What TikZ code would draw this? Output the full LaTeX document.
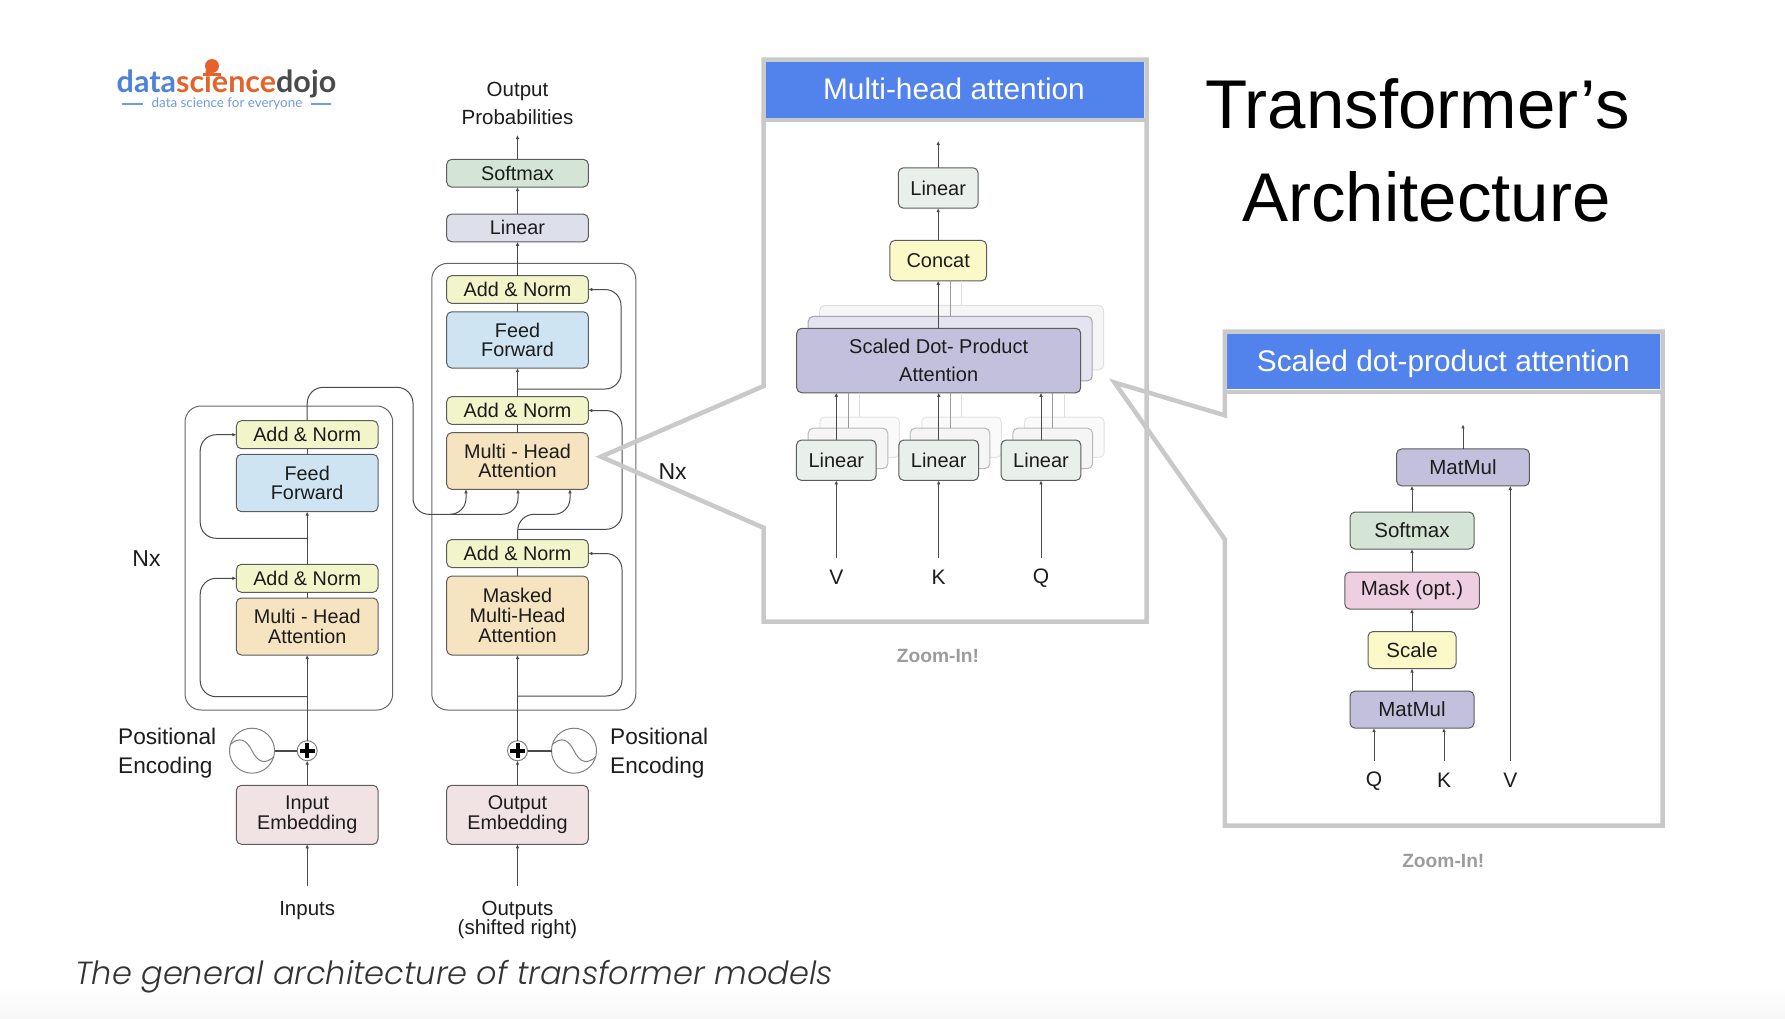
\documentclass[tikz,border=0pt]{standalone}
\usepackage{fontspec}
\setmainfont{Liberation Sans}
\newfontfamily\logofont{Lato}
\newfontfamily\capfont[ItalicFont={Poppins Light Italic}]{Poppins}
\usetikzlibrary{arrows.meta,calc}
\definecolor{softg}{HTML}{D4E4D5}
\definecolor{lingray}{HTML}{DDE0EA}
\definecolor{anorm}{HTML}{F2F5C9}
\definecolor{ffblue}{HTML}{CFE4F2}
\definecolor{mhaor}{HTML}{F6E3C0}
\definecolor{embpk}{HTML}{F1E3E3}
\definecolor{concy}{HTML}{FCF9C8}
\definecolor{maskp}{HTML}{EECFE2}
\definecolor{matp}{HTML}{C3C0DD}
\definecolor{linz}{HTML}{E9EFEA}
\definecolor{hdr}{HTML}{5282EC}
\definecolor{frameg}{HTML}{C9C9C9}
\definecolor{linec}{HTML}{4A4A4A}
\definecolor{txtc}{HTML}{1C1C1C}
\definecolor{zoomg}{HTML}{9C9C9C}
\definecolor{lblue}{HTML}{4F81DC}
\definecolor{lorange}{HTML}{E5622A}
\definecolor{lgray}{HTML}{4A4A4A}
\definecolor{ltag}{HTML}{6F9BE0}
\definecolor{bandg}{HTML}{F7F7F7}
\tikzset{
  x=1pt,y=-1pt,
  boxbase/.style={draw=#1,rounded corners=5pt,line width=1pt,inner sep=0pt,outer sep=0pt,align=center,text=txtc,font=\fontsize{19.8}{19.7}\selectfont},
  boxbase/.default={linec!90},
  cbox/.style 2 args={boxbase,fill=#1,minimum width=141.6pt,minimum height=#2},
  wbox/.style 2 args={boxbase,fill=#1,minimum width=#2,minimum height=40.4pt,font=\fontsize{20}{27.8}\selectfont},
  rbox/.style 2 args={boxbase,fill=#1,minimum width=#2,minimum height=37pt,font=\fontsize{20.5}{24}\selectfont},
  shada/.style={boxbase=black!28,fill=#1},
  shadb/.style={boxbase=black!11,fill=#1},
  lbl/.style={inner sep=0pt,align=center,text=txtc,font=\fontsize{20.5}{19.6}\selectfont},
  lblwide/.style={inner sep=0pt,align=center,text=txtc,font=\fontsize{20.5}{28}\selectfont},
  bigl/.style={inner sep=0pt,align=left,anchor=west,text=txtc,font=\fontsize{22.6}{28.8}\selectfont},
  nxl/.style={inner sep=0pt,text=txtc,font=\fontsize{23}{27}\selectfont},
  vkq/.style={inner sep=0pt,text=txtc,font=\fontsize{21}{25}\selectfont},
  hdrt/.style={inner sep=0pt,text=white,font=\fontsize{29.8}{32}\selectfont},
  zoomt/.style={inner sep=0pt,text=zoomg,font=\fontsize{19.2}{22}\bfseries\selectfont},
  titlet/.style={inner sep=0pt,text=black,font=\fontsize{69}{80}\selectfont},
  conn/.style={draw=linec,line width=1pt},
  arr/.style={conn,-{Latex[length=4pt,width=3.6pt]}},
  skipl/.style={arr,rounded corners=16pt},
  outer/.style={draw=linec!85,line width=1pt,rounded corners=16pt},
  frame/.style={draw=frameg,line width=4.5pt,miter limit=20},
  sigc/.style={circle,draw=black!50,line width=1pt,minimum size=45pt,inner sep=0pt,outer sep=0pt},
  plusn/.style={circle,draw=black!50,fill=white,line width=1pt,minimum size=20pt,inner sep=0pt,outer sep=0pt},
}
\begin{document}
\begin{tikzpicture}
\useasboundingbox (0,0) rectangle (1785,1018);
% bottom band
\shade[top color=white,bottom color=bandg] (0,985) rectangle (1785,1018);

% logo
\node[inner sep=0pt,anchor=base west,font=\fontsize{30.5}{32}\logofont\bfseries\selectfont] (logo) at (116.5,92)
  {\textcolor{lblue}{data}\textcolor{lorange}{science}\textcolor{lgray}{dojo}};
\node[circle,fill=lorange,minimum size=14pt,inner sep=0pt] (logodot) at (212,66) {};
\coordinate (lbara) at (203,74.5);
\coordinate (lbarb) at (221,74.5);
\draw[lorange,line width=2.5pt] (lbara) -- (lbarb);
\node[inner sep=0pt,text=ltag,font=\fontsize{13.4}{16}\logofont\selectfont] (logotag) at (227,104) {data science for everyone};
\coordinate (la1) at (121.5,104); \coordinate (la2) at (142.5,104);
\coordinate (lb1) at (310.5,104); \coordinate (lb2) at (331,104);
\draw[ltag,line width=1.8pt] (la1) -- (la2);
\draw[ltag,line width=1.8pt] (lb1) -- (lb2);

% outer Nx frames
\node[outer,minimum width=207.7pt,minimum height=304pt,inner sep=0pt,outer sep=0pt] (encframe) at (288.85,558) {};
\node[outer,minimum width=204pt,minimum height=446.7pt,inner sep=0pt,outer sep=0pt] (decframe) at (533.8,486.65) {};

% decoder boxes
\node[cbox={softg}{27.7pt}] (dsoft) at (517.5,173.2) {Softmax};
\node[cbox={lingray}{27.7pt}] (dlin) at (517.5,227.9) {Linear};
\node[cbox={anorm}{27.7pt}] (dan1) at (517.5,289.5) {Add \& Norm};
\node[cbox={ffblue}{56.3pt}] (dff) at (517.5,339.9) {Feed\\Forward};
\node[cbox={anorm}{27.7pt}] (dan2) at (517.5,410.5) {Add \& Norm};
\node[cbox={mhaor}{56.6pt}] (dmha) at (517.5,461) {Multi - Head\\Attention};
\node[cbox={anorm}{28pt}] (dan3) at (517.5,553.5) {Add \& Norm};
\node[cbox={mhaor}{79pt}] (dmask) at (517.5,615.5) {Masked\\Multi-Head\\Attention};
\node[cbox={embpk}{59pt}] (demb) at (517.5,814.8) {\raisebox{-1.5pt}{Output}\\\raisebox{-1.5pt}{Embedding}};
% encoder boxes
\node[cbox={anorm}{28pt}] (ean1) at (307.2,434.7) {Add \& Norm};
\node[cbox={ffblue}{57.4pt}] (eff) at (307.2,483) {Feed\\Forward};
\node[cbox={anorm}{28pt}] (ean2) at (307.2,578.3) {Add \& Norm};
\node[cbox={mhaor}{57pt}] (emha) at (307.2,626.5) {Multi - Head\\Attention};
\node[cbox={embpk}{59pt}] (eemb) at (307.2,814.8) {\raisebox{-1.5pt}{Input}\\\raisebox{-1.5pt}{Embedding}};
% plus and signal
\node[plusn] (eplus) at (307.2,750.7) {};
\node[plusn] (dplus) at (517.5,750.7) {};
\node[sigc] (esig) at (252,750.7) {};
\node[sigc] (dsig) at (574,750.7) {};
\foreach \c in {eplus,dplus}{
  \fill[black] (\c.center) ++(-7.5,-2) rectangle ++(15,4);
  \fill[black] (\c.center) ++(-2,-7.5) rectangle ++(4,15);
}
\foreach \c in {esig,dsig}{
  \begin{scope}[shift={(\c.center)}]
    \draw[black!50,line width=1pt] (-22,-6) .. controls (-13,-14) and (-6,-12) .. (0,0) .. controls (6,12) and (13,14) .. (22,6);
  \end{scope}
}
\draw[linec,line width=2pt] (esig) -- (eplus);
\draw[linec,line width=2pt] (dsig) -- (dplus);

% labels
\node[lblwide] (outprob) at (517.5,103.3) {Output\\Probabilities};
\node[lbl] (inputs) at (307.2,910.2) {Inputs};
\node[lbl] (outputs) at (517.5,920) {Outputs\\(shifted right)};
\node[bigl] (epe) at (118,753) {Positional\\Encoding};
\node[bigl] (dpe) at (610,753) {Positional\\Encoding};
\node[nxl] (enx) at (146.5,558.3) {Nx};
\node[nxl] (dnx) at (672.6,471.7) {Nx};

% free ends
\coordinate (outtop) at (517.5,135);
\coordinate (infree) at (307.2,886);
\coordinate (outfree) at (517.5,886);
\coordinate (m1) at (466,489.3);
\coordinate (m2) at (518,489.3);
\coordinate (m3) at (570,489.3);
\coordinate (jsk) at (450,514.3);

% decoder connectors
\draw[arr] (dsoft.north) -- (outtop);
\draw[arr] (dlin.north) -- (dsoft.south);
\draw[arr] (dan1.north) -- (dlin.south);
\draw[conn] (dff.north) -- (dan1.south);
\draw[arr] (dan2.north) -- (dff.south);
\draw[conn] (dmha.north) -- (dan2.south);
\draw[conn] (dmask.north) -- (dan3.south);
\draw[arr] (dplus.north) -- (dmask.south);
\draw[arr] (demb.north) -- (dplus.south);
\draw[arr] (outfree) -- (demb.south);
% decoder skips
\coordinate (ds1) at (517.5,389);
\coordinate (ds2) at (518,529.3);
\coordinate (ds3) at (517.5,696);
\draw[skipl] (ds1) -- (621,389) -- (621,289.5) -- (dan1.east);
\draw[skipl] (ds2) -- (622,529.3) -- (622,410.5) -- (dan2.east);
\draw[skipl] (ds3) -- (622,696) -- (622,553.5) -- (dan3.east);
\draw[skipl] (dan3.north) -- (518,514.3) -- (570,514.3) -- (m3);
\draw[skipl] (jsk) -- (518,514.3) -- (m2);
\draw[skipl] (ean1.north) -- (307.2,387.3) -- (413,387.3) -- (413,514.3) -- (466,514.3) -- (m1);

% encoder connectors
\draw[conn] (eff.north) -- (ean1.south);
\draw[arr] (ean2.north) -- (eff.south);
\draw[conn] (emha.north) -- (ean2.south);
\draw[arr] (eplus.north) -- (emha.south);
\draw[arr] (eemb.north) -- (eplus.south);
\draw[arr] (infree) -- (eemb.south);
\coordinate (es1) at (307.2,538.3);
\coordinate (es2) at (307.2,696.7);
\draw[skipl] (es1) -- (200.2,538.3) -- (200.2,434.7) -- (ean1.west);
\draw[skipl] (es2) -- (200.2,696.7) -- (200.2,578.3) -- (ean2.west);

% multi-head panel: shadows
\node[wbox={white}{79.7pt},shadb={black!2}] (vs2) at (859.6,437.2) {};
\node[wbox={white}{79.7pt},shadb={black!2}] (ks2) at (961.6,437.2) {};
\node[wbox={white}{79.7pt},shadb={black!2}] (qs2) at (1064.3,437.2) {};
\node[wbox={white}{79.7pt},shada={black!4}] (vs1) at (848,448.4) {};
\node[wbox={white}{79.7pt},shada={black!4}] (ks1) at (950,448.4) {};
\node[wbox={white}{79.7pt},shada={black!4}] (qs1) at (1052.7,448.4) {};
\node[boxbase=black!12,fill=black!4,minimum width=284pt,minimum height=64.5pt] (ss2) at (961.7,337.6) {};
\node[boxbase=black!35,fill=matp!45,minimum width=284pt,minimum height=64.5pt] (ss1) at (950.2,348.7) {};
\node[wbox={concy}{96.7pt}] (concat) at (938.2,260.6) {Concat};
\node[boxbase,fill=matp,minimum width=284pt,minimum height=64.5pt,font=\fontsize{20}{27.8}\selectfont] (sdp) at (938.7,360.5) {Scaled Dot- Product\\Attention};
\node[wbox={linz}{79.7pt}] (ltop) at (938.2,188) {Linear};
\node[wbox={linz}{79.7pt}] (lv) at (836.3,460.2) {Linear};
\node[wbox={linz}{79.7pt}] (lk) at (938.7,460.2) {Linear};
\node[wbox={linz}{79.7pt}] (lq) at (1041,460.2) {Linear};
\node[vkq] (tv) at (836.3,577.7) {V};
\node[vkq] (tk) at (938.7,577.7) {K};
\node[vkq] (tq) at (1041,577.7) {Q};
\coordinate (ztop) at (938.2,141);
\coordinate (fv) at (836.3,557.6);
\coordinate (fk) at (938.7,557.6);
\coordinate (fq) at (1041,557.6);
\draw[arr] (ltop.north) -- (ztop);
\draw[arr] (concat.north) -- (ltop.south);
\draw[arr] (sdp.north -| concat.south) -- (concat.south);
\draw[arr] (lv.north) -- (lv.north |- sdp.south);
\draw[arr] (lk.north) -- (lk.north |- sdp.south);
\draw[arr] (lq.north) -- (lq.north |- sdp.south);
\draw[arr] (fv) -- (lv.south);
\draw[arr] (fk) -- (lk.south);
\draw[arr] (fq) -- (lq.south);
\draw[draw=black!40,line width=1pt] (vs1.north) -- (vs1.north |- sdp.south);
\draw[draw=black!40,line width=1pt] (ks1.north) -- (ks1.north |- sdp.south);
\draw[draw=black!40,line width=1pt] (qs1.north) -- (qs1.north |- sdp.south);
\draw[draw=black!13,line width=1pt] (vs2.north) -- (vs2.north |- sdp.south);
\draw[draw=black!13,line width=1pt] (ks2.north) -- (ks2.north |- sdp.south);
\draw[draw=black!13,line width=1pt] (qs2.north) -- (qs2.north |- sdp.south);
\draw[draw=black!40,line width=1pt] (ss1.north) -- (ss1.north |- concat.south);
\draw[draw=black!13,line width=1pt] (ss2.north) -- (ss2.north |- concat.south);

% frame 1
\node[fill=hdr,minimum width=380.3pt,minimum height=55.2pt,inner sep=0pt,outer sep=0pt] (h1) at (954.2,90) {};
\node[hdrt] (h1t) at (954,89) {Multi-head attention};
\draw[frame] (763.7,59.6) -- (1146.7,59.6) -- (1146.7,621.6) -- (763.7,621.6) -- (763.7,527.8) -- (601,456.7) -- (763.7,386) -- cycle;
\draw[frame] (763.7,120) -- (1146.7,120);
\node[zoomt] (z1) at (938,656) {Zoom-In!};

% frame 2
\node[rbox={matp}{132.8pt}] (rmm) at (1463,467.4) {MatMul};
\node[rbox={softg}{124pt}] (rsoft) at (1412,530.5) {Softmax};
\node[rbox={maskp}{134.5pt}] (rmask) at (1412,590.5) {\raisebox{-1pt}{Mask (opt.)}};
\node[rbox={concy}{88pt}] (rscale) at (1412,650) {Scale};
\node[rbox={matp}{124pt}] (rmm2) at (1412,709.6) {MatMul};
\node[vkq] (rq) at (1374,781) {Q};
\node[vkq] (rk) at (1444,780.5) {K};
\node[vkq] (rv) at (1510.3,780.5) {V};
\coordinate (rtop) at (1463,424.4);
\coordinate (fq2) at (1374,761);
\coordinate (fk2) at (1444,761);
\coordinate (fv2) at (1510.3,761);
\draw[arr] (rmm.north) -- (rtop);
\draw[arr] (rsoft.north) -- (rsoft.north |- rmm.south);
\draw[arr] (rmask.north) -- (rsoft.south);
\draw[arr] (rscale.north) -- (rmask.south);
\draw[arr] (rmm2.north) -- (rscale.south);
\draw[arr] (fq2) -- (fq2 |- rmm2.south);
\draw[arr] (fk2) -- (fk2 |- rmm2.south);
\draw[arr] (fv2) -- (fv2 |- rmm.south);
\node[fill=hdr,minimum width=433pt,minimum height=55.4pt,inner sep=0pt,outer sep=0pt] (h2) at (1443.5,361.5) {};
\node[hdrt] (h2t) at (1443.3,363.7) {Scaled dot-product attention};
\draw[frame] (1224.8,331.6) -- (1662.6,331.6) -- (1662.6,825.5) -- (1224.8,825.5) -- (1224.8,539.3) -- (1114.5,382.5) -- (1224.8,415.3) -- cycle;
\draw[frame] (1224.8,392) -- (1662.6,392);
\node[zoomt] (z2) at (1443.3,861) {Zoom-In!};

% title
\node[titlet] (t1) at (1417.5,104) {Transformer’s};
\node[titlet] (t2) at (1426.5,197) {Architecture};

% caption
\node[inner sep=0pt,anchor=base west,text=black!80,font=\fontsize{32}{35}\capfont\itshape\selectfont] (cap) at (75,984.3) {The general architecture of transformer models};
\end{tikzpicture}
\end{document}
